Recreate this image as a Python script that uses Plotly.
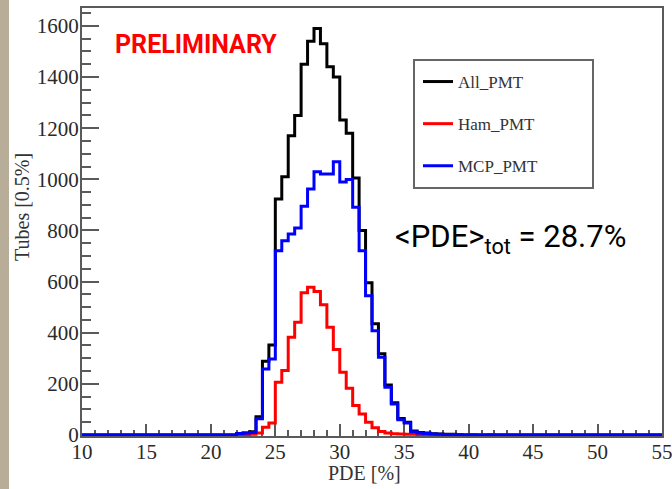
import plotly.graph_objects as go

# ---- data: PDE histogram, 0.5% bins from 10.0 to 55.0 ----
bin_width = 0.5
bin_low_edges = [10.0 + bin_width * i for i in range(90)]

all_pmt = [
    0, 0, 0, 0, 0, 0, 0, 0, 0, 0,            # 10.0 - 14.5
    0, 0, 0, 0, 0, 0, 0, 0, 0, 0,            # 15.0 - 19.5
    0, 0, 0, 0, 6, 8, 13, 71, 288, 352,      # 20.0 - 24.5
    923, 1010, 1170, 1250, 1450, 1540, 1590, 1530, 1440, 1400,  # 25.0 - 29.5
    1232, 1180, 1005, 800, 595, 435, 318, 195, 126, 64,         # 30.0 - 34.5
    50, 16, 10, 8, 5, 4, 3, 3, 2, 0,         # 35.0 - 39.5
    1, 0, 0, 1, 0, 0, 0, 0, 0, 0,            # 40.0 - 44.5
    0, 0, 0, 0, 0, 0, 0, 0, 0, 0,            # 45.0 - 49.5
    0, 0, 0, 0, 0, 0, 0, 0, 0, 0,            # 50.0 - 54.5
]
ham_pmt = [
    0, 0, 0, 0, 0, 0, 0, 0, 0, 0,
    0, 0, 0, 0, 0, 0, 0, 0, 0, 0,
    0, 0, 0, 0, 0, 0, 3, 8, 30, 47,
    206, 252, 382, 441, 556, 578, 561, 509, 421, 334,
    245, 183, 115, 82, 50, 28, 14, 8, 5, 4,
    3, 3, 2, 2, 1, 1, 1, 1, 1, 0,
    1, 0, 0, 1, 0, 0, 0, 0, 0, 0,
    0, 0, 0, 0, 0, 0, 0, 0, 0, 0,
    0, 0, 0, 0, 0, 0, 0, 0, 0, 0,
]
mcp_pmt = [
    0, 0, 0, 0, 0, 0, 0, 0, 0, 0,
    0, 0, 0, 0, 0, 0, 0, 0, 0, 0,
    0, 0, 0, 0, 6, 8, 10, 63, 258, 297,
    721, 760, 786, 810, 895, 962, 1030, 1021, 1021, 1069,
    989, 999, 891, 721, 545, 408, 304, 187, 121, 60,
    47, 13, 8, 6, 4, 3, 2, 2, 1, 0,
    0, 0, 0, 0, 0, 0, 0, 0, 0, 0,
    0, 0, 0, 0, 0, 0, 0, 0, 0, 0,
    0, 0, 0, 0, 0, 0, 0, 0, 0, 0,
]
series_names = ["All_PMT", "Ham_PMT", "MCP_PMT"]
series_colors = ["#000000", "#ff0000", "#0000ff"]
x_ticks = [10, 15, 20, 25, 30, 35, 40, 45, 50, 55]
y_ticks = [0, 200, 400, 600, 800, 1000, 1200, 1400, 1600]

# ---- layout geometry ----
W, H = 672, 489
ML, MR, MT, MB = 82, 10, 8, 53
PW, PH = W - ML - MR, H - MT - MB


def px(xp):
    return (xp - ML) / PW


def py(yp):
    return (H - MB - yp) / PH


edges = bin_low_edges + [bin_low_edges[-1] + bin_width]

fig = go.Figure()
for name, vals, col in zip(series_names, [all_pmt, ham_pmt, mcp_pmt], series_colors):
    fig.add_trace(go.Scatter(
        x=edges, y=vals + [vals[-1]], mode="lines", name=name,
        line=dict(color=col, width=3, shape="hv"),
        legendgroup=name, hoverinfo="skip",
    ))

serif = "Liberation Serif, Times New Roman, serif"
tick_font = dict(family=serif, size=21, color="#2a2a2a")
axis_col = "#5a5a5a"

fig.update_layout(
    width=W, height=H,
    margin=dict(l=ML, r=MR, t=MT, b=MB, pad=0, autoexpand=False),
    paper_bgcolor="white", plot_bgcolor="white",
    showlegend=True,
    legend=dict(
        x=px(418), y=py(64), xanchor="left", yanchor="top",
        bgcolor="rgba(0,0,0,0)", borderwidth=0,
        font=dict(family=serif, size=17, color="#333333"),
        tracegroupgap=17, itemwidth=30,
    ),
    xaxis=dict(
        range=[10, 55], tickvals=x_ticks, ticktext=[str(v) for v in x_ticks],
        ticks="inside", ticklen=12, tickwidth=2, tickcolor=axis_col,
        minor=dict(dtick=1, tick0=10, ticks="inside", ticklen=6, tickwidth=2, tickcolor=axis_col),
        showline=True, linecolor=axis_col, linewidth=2, mirror=True,
        showgrid=False, zeroline=False, tickfont=tick_font, ticklabelstandoff=-4,
        ticklabeloverflow="allow", automargin=False,
        layer="below traces",
    ),
    yaxis=dict(
        range=[-4, 1670], tickvals=y_ticks, ticktext=[str(v) for v in y_ticks],
        ticks="inside", ticklen=17, tickwidth=2, tickcolor=axis_col,
        minor=dict(dtick=50, tick0=0, ticks="inside", ticklen=9, tickwidth=2, tickcolor=axis_col),
        showline=True, linecolor=axis_col, linewidth=2, mirror=True,
        showgrid=False, zeroline=False, tickfont=tick_font, ticklabelstandoff=-3,
        ticklabeloverflow="allow", automargin=False,
        layer="below traces",
    ),
    shapes=[
        dict(type="rect", xref="paper", yref="paper", x0=px(0), x1=px(9), y0=py(H), y1=py(0),
             fillcolor="#b8ad99", line=dict(width=0), layer="below"),
        dict(type="rect", xref="paper", yref="paper", x0=px(414), x1=px(593), y0=py(188), y1=py(60),
             fillcolor="white", line=dict(color="#666666", width=2), layer="above"),
    ],
    annotations=[
        dict(text="PRELIMINARY", xref="paper", yref="paper", x=px(196), y=py(44),
             xanchor="center", yanchor="middle", showarrow=False,
             font=dict(family="Roboto, sans-serif", size=25, color="#ff0000", weight="bold")),
        dict(text="&lt;PDE&gt;<sub>tot</sub> = 28.7%", xref="paper", yref="paper",
             x=px(393), y=py(239), xanchor="left", yanchor="middle", showarrow=False,
             font=dict(family="Roboto, sans-serif", size=31, color="#000000")),
        dict(text="PDE [%]", xref="paper", yref="paper", x=px(364), y=py(473),
             xanchor="center", yanchor="middle", showarrow=False,
             font=dict(family=serif, size=20, color="#333333")),
        dict(text="Tubes [0.5%]", xref="paper", yref="paper", x=px(22), y=py(207),
             xanchor="center", yanchor="middle", showarrow=False, textangle=-90,
             font=dict(family=serif, size=20, color="#333333")),
    ],
)

fig.write_html("out.html", config={"displayModeBar": False},
               post_script="document.body.style.margin='0px';")
